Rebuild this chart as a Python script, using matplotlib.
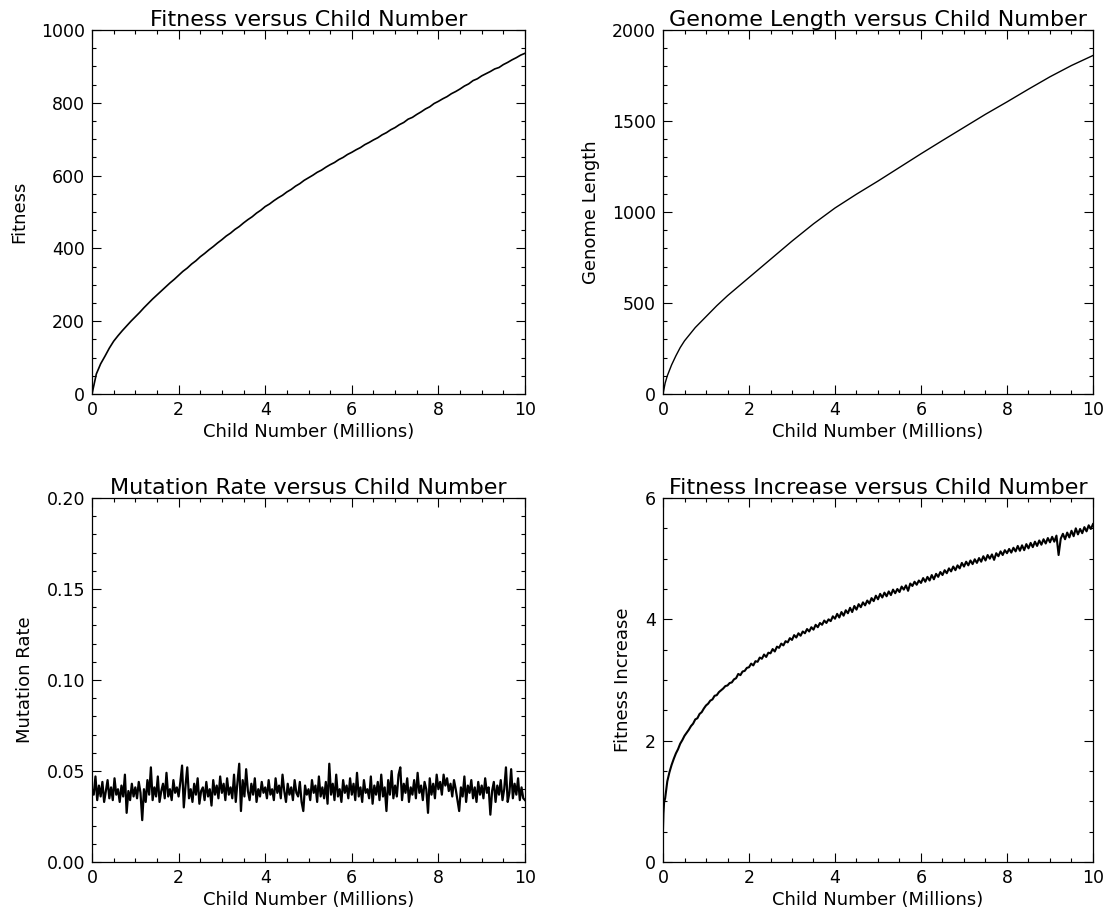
import numpy as np
import matplotlib
matplotlib.use("Agg")
import matplotlib.pyplot as plt
from matplotlib.ticker import MultipleLocator, FormatStrFormatter

# Fitness (every 0.1 million children)
fitness = [0, 55, 83, 104, 126, 145, 160, 174, 187, 200,
           212, 224, 237, 249, 261, 272, 283, 294, 305, 315,
           326, 337, 346, 357, 366, 377, 386, 396, 405, 415,
           424, 434, 442, 452, 460, 470, 479, 487, 497, 505,
           515, 522, 531, 539, 546, 555, 562, 571, 578, 587,
           594, 601, 609, 615, 623, 630, 636, 644, 650, 658,
           664, 671, 677, 685, 691, 698, 704, 712, 718, 726,
           732, 740, 746, 755, 760, 768, 775, 783, 789, 798,
           804, 811, 817, 825, 831, 838, 846, 852, 861, 866,
           874, 880, 886, 893, 897, 905, 911, 918, 924, 931,
           936]
child_fitness = np.linspace(0, 10, len(fitness))

# Genome length
child_genome = [0, 0.05, 0.1, 0.2, 0.3, 0.4, 0.5, 0.75, 1.0, 1.25, 1.5, 1.75, 2.0,
                2.5, 3.0, 3.5, 4.0, 4.5, 5.0, 5.5, 6.0, 6.5, 7.0, 7.5, 8.0,
                8.5, 9.0, 9.5, 10.0]
genome_length = [0, 60, 100, 160, 210, 255, 292, 365, 425, 485, 540, 590, 640,
                 740, 840, 935, 1022, 1098, 1170, 1245, 1320, 1393, 1465, 1537, 1605,
                 1675, 1743, 1805, 1860]

# Mutation rate (thousandths, every 0.04 million children)
mutation_milli = [
    40, 37, 47, 34, 42, 36, 44, 33, 39, 45, 35, 41, 34, 46, 37, 40, 33, 42, 36, 48, 27, 39, 34, 43, 36,
    41, 35, 44, 38, 23, 40, 33, 45, 37, 52, 34, 41, 36, 47, 33, 39, 43, 35, 49, 36, 40, 34, 45, 38, 41,
    36, 44, 53, 30, 42, 52, 35, 40, 33, 43, 37, 46, 32, 39, 41, 34, 44, 36, 40, 31, 45, 37, 42, 35, 47,
    38, 43, 34, 46, 37, 41, 35, 48, 33, 44, 54, 28, 45, 36, 51, 39, 34, 43, 37, 46, 33, 40, 36, 44, 38,
    41, 35, 45, 37, 40, 34, 46, 38, 42, 35, 48, 39, 33, 43, 37, 41, 34, 45, 38, 36, 44, 33, 28, 42, 37,
    40, 34, 45, 38, 42, 33, 47, 36, 41, 35, 44, 32, 54, 37, 43, 34, 48, 36, 40, 33, 45, 38, 42, 35, 46,
    37, 43, 34, 49, 36, 41, 33, 45, 38, 40, 35, 47, 32, 42, 37, 44, 34, 48, 36, 41, 28, 45, 37, 50, 35,
    42, 36, 48, 52, 34, 43, 38, 46, 33, 41, 37, 45, 35, 49, 38, 42, 34, 44, 40, 27, 46, 37, 43, 35, 48,
    40, 44, 37, 48, 42, 46, 39, 43, 36, 45, 40, 34, 28, 41, 36, 47, 33, 42, 38, 45, 35, 41, 33, 44, 37,
    42, 35, 46, 38, 41, 26, 39, 44, 33, 42, 37, 45, 34, 40, 52, 33, 38, 51, 35, 43, 37, 46, 34, 41, 35,
    34]
child_mutation = np.linspace(0, 10, len(mutation_milli))
mutation_rate = np.array(mutation_milli) / 1000.0

# Fitness increase: first few points near zero, then every 0.05 million
child_fi_start = [0.0, 0.01, 0.025]
fi_start = [0.55, 0.8, 0.98]
fitness_increase = [
    1.05, 1.33, 1.48, 1.60, 1.70, 1.79, 1.86, 1.95, 2.01, 2.08,
    2.13, 2.18, 2.24, 2.28, 2.35, 2.37, 2.44, 2.47, 2.53, 2.58,
    2.61, 2.66, 2.68, 2.74, 2.75, 2.80, 2.83, 2.86, 2.90, 2.91,
    2.95, 2.96, 3.01, 3.03, 3.10, 3.08, 3.14, 3.15, 3.20, 3.21,
    3.27, 3.24, 3.31, 3.30, 3.37, 3.35, 3.42, 3.38, 3.45, 3.44,
    3.51, 3.47, 3.55, 3.53, 3.60, 3.57, 3.64, 3.62, 3.69, 3.66,
    3.74, 3.70, 3.77, 3.73, 3.80, 3.77, 3.84, 3.80, 3.87, 3.83,
    3.91, 3.87, 3.94, 3.91, 3.98, 3.94, 4.00, 3.97, 4.05, 4.01,
    4.09, 4.03, 4.12, 4.06, 4.15, 4.10, 4.19, 4.12, 4.22, 4.16,
    4.25, 4.20, 4.28, 4.23, 4.31, 4.26, 4.35, 4.30, 4.39, 4.33,
    4.42, 4.36, 4.44, 4.38, 4.46, 4.40, 4.49, 4.43, 4.50, 4.45,
    4.54, 4.49, 4.56, 4.47, 4.59, 4.55, 4.62, 4.57, 4.64, 4.60,
    4.68, 4.62, 4.70, 4.64, 4.73, 4.66, 4.75, 4.70, 4.78, 4.73,
    4.81, 4.76, 4.84, 4.79, 4.87, 4.81, 4.89, 4.84, 4.93, 4.87,
    4.95, 4.89, 4.97, 4.91, 4.99, 4.93, 5.01, 4.95, 5.04, 4.97,
    5.06, 5.00, 5.07, 4.98, 5.09, 5.04, 5.12, 5.06, 5.14, 5.09,
    5.16, 5.10, 5.18, 5.12, 5.21, 5.13, 5.22, 5.14, 5.24, 5.17,
    5.26, 5.19, 5.28, 5.21, 5.30, 5.23, 5.32, 5.25, 5.34, 5.27,
    5.36, 5.28, 5.38, 5.06, 5.33, 5.41, 5.32, 5.43, 5.35, 5.46,
    5.37, 5.50, 5.40, 5.49, 5.42, 5.52, 5.45, 5.55, 5.49, 5.57]
child_fi = np.concatenate([child_fi_start, np.linspace(0.05, 10, len(fitness_increase))])
fi_all = np.concatenate([fi_start, fitness_increase])

plt.rcParams['font.family'] = ['DejaVu Sans']

fig = plt.figure(figsize=(11.11, 9.15), dpi=100)
W, H = 1111.0, 915.0


def panel(left, top, right, bottom):
    return fig.add_axes([left / W, 1 - bottom / H, (right - left) / W, (bottom - top) / H])


def style(ax, title, ylabel, ymax, ymaj, ymin, fmt):
    ax.set_xlim(0, 10)
    ax.set_ylim(0, ymax)
    ax.xaxis.set_major_locator(MultipleLocator(2))
    ax.xaxis.set_minor_locator(MultipleLocator(0.5))
    ax.yaxis.set_major_locator(MultipleLocator(ymaj))
    ax.yaxis.set_minor_locator(MultipleLocator(ymin))
    ax.yaxis.set_major_formatter(FormatStrFormatter(fmt))
    ax.tick_params(which='both', direction='in', top=True, right=True, width=0.8,
                   labelsize=12.5, colors='black')
    ax.tick_params(which='major', length=6.5, pad=5)
    ax.tick_params(which='minor', length=3)
    for s in ax.spines.values():
        s.set_linewidth(0.9)
    ax.set_title(title, fontsize=16, pad=1)
    ax.set_xlabel("Child Number (Millions)", fontsize=13, labelpad=3)
    ax.set_ylabel(ylabel, fontsize=13, labelpad=9)


# 1. Fitness
ax1 = panel(92, 30, 525, 394)
ax1.plot(child_fitness, fitness, color='black', linewidth=1.2)
style(ax1, "Fitness versus Child Number", "Fitness", 1000, 200, 50, '%d')

# 2. Genome length
ax2 = panel(663, 30, 1093, 394)
ax2.plot(child_genome, genome_length, color='black', linewidth=1.0)
style(ax2, "Genome Length versus Child Number", "Genome Length", 2000, 500, 100, '%d')

# 3. Mutation rate
ax3 = panel(92, 498, 525, 862)
ax3.plot(child_mutation, mutation_rate, color='black', linewidth=1.6)
style(ax3, "Mutation Rate versus Child Number", "Mutation Rate", 0.2, 0.05, 0.01, '%.2f')

# 4. Fitness increase
ax4 = panel(663, 498, 1093, 862)
ax4.plot(child_fi, fi_all, color='black', linewidth=1.5)
style(ax4, "Fitness Increase versus Child Number", "Fitness Increase", 6, 2, 0.5, '%d')

fig.savefig("out.png", dpi=100)
